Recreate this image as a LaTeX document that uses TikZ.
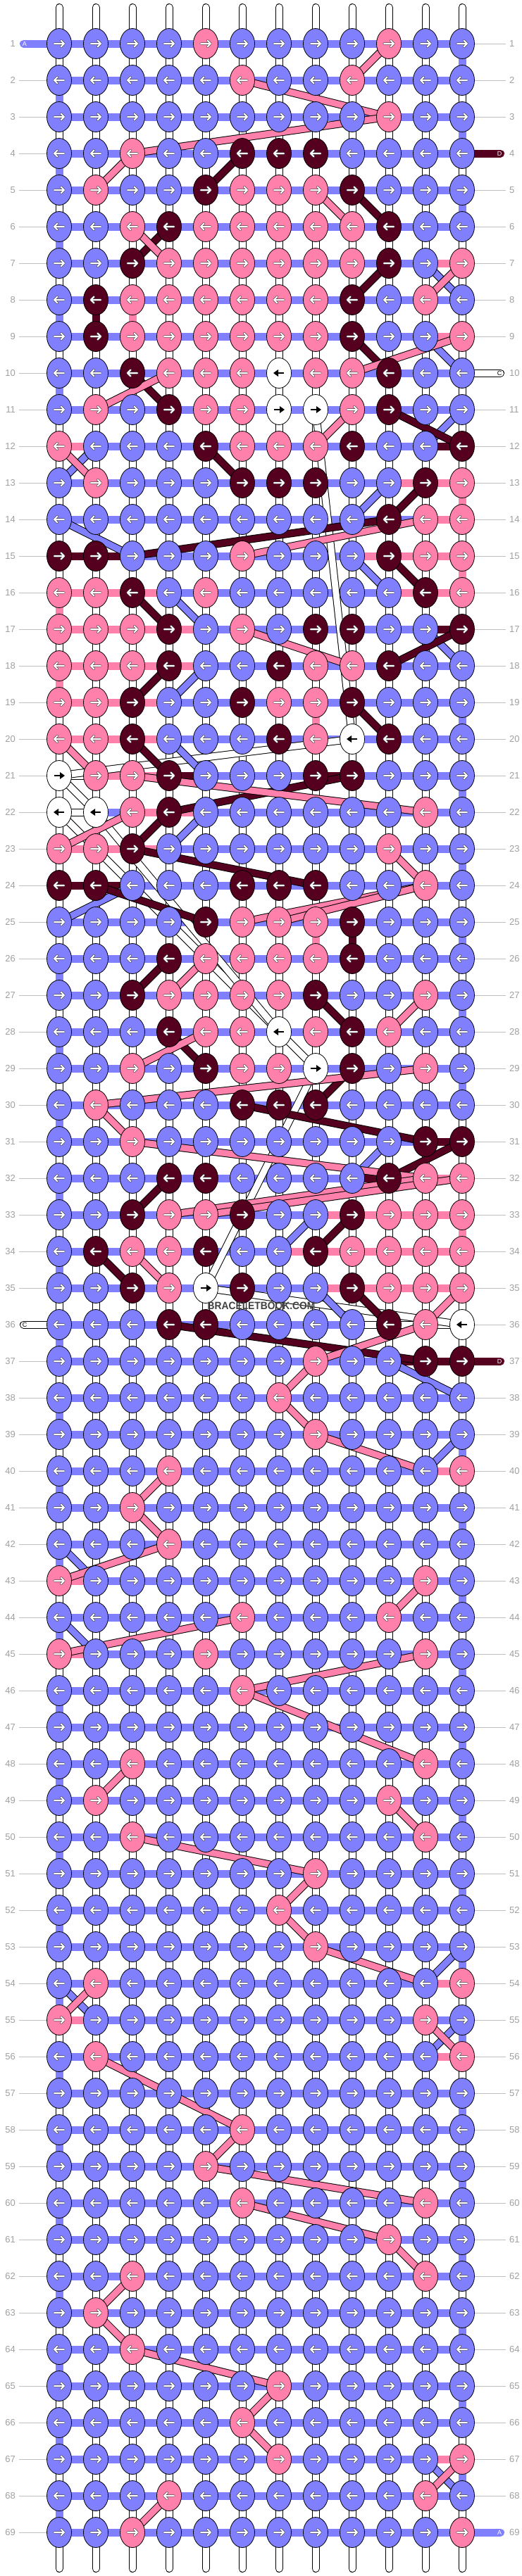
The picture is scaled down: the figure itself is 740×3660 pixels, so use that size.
\documentclass[tikz,border=0pt]{standalone}
\usepackage{fontspec}
\setmainfont{Liberation Sans}
\usetikzlibrary{shapes.geometric}
\definecolor{cB}{HTML}{8080FF}
\definecolor{cP}{HTML}{FF80AA}
\definecolor{cD}{HTML}{55001F}
\definecolor{cW}{HTML}{FFFFFF}
\definecolor{labgray}{HTML}{A0A0A0}
\definecolor{linegray}{HTML}{C0C0C0}
\definecolor{wmark}{HTML}{404040}
\tikzset{
  knot/.style={ellipse, draw=black, line width=0.8pt, minimum width=35pt, minimum height=43pt, inner sep=0pt},
  band/.style={draw=black, line width=1pt, double=#1, double distance=9pt},
  bar/.style={draw=#1, line width=11pt},
  lab/.style={text=labgray, inner sep=0pt, font=\fontsize{13}{13}\selectfont},
  labline/.style={draw=linegray, line width=1pt},
  stublab/.style={inner sep=0pt, font=\fontsize{9}{9}\selectfont}
}
\begin{document}
\begin{tikzpicture}[x=1pt,y=-1pt]
\useasboundingbox (0,0) rectangle (740,3660);
\fill[white] (0,0) rectangle (740,3660);
% grid coordinates
\foreach \r in {1,...,69}{
  \foreach \c in {1,...,12}{
    \coordinate (p-\r-\c) at ({84+52*(\c-1)},{62+52*(\r-1)});
  }
}
% vertical white strings
\foreach \c in {1,...,12}{
  \coordinate (top-\c) at ({84+52*(\c-1)},10.5);
  \coordinate (bot-\c) at ({84+52*(\c-1)},3649.5);
  \draw[band=white, line cap=round] (top-\c) -- (bot-\c);
}
% edge wraps
\foreach \r [evaluate=\r as \s using int(\r+1)] in {1,3,5,19,21,23,25,27,29,39,41,43,45,47,49,51,53,55,57,59,61,63,65,67}
  \draw[bar=cB] (p-\r-12) -- (p-\s-12);
\foreach \r [evaluate=\r as \s using int(\r+1)] in {2,4,6,8,10,26,28,30,32,34,36,38,40,42,44,46,48,50,52,54,56,58,60,62,64,66,68}
  \draw[bar=cB] (p-\r-1) -- (p-\s-1);
\foreach \a/\b in {16-1/17-1,18-1/19-1,13-12/14-12,15-12/16-12,33-12/34-12,8-3/9-3,19-8/20-8,25-8/26-8}
  \draw[bar=cP] (p-\a) -- (p-\b);
\foreach \a/\b in {8-2/9-2,25-9/26-9}
  \draw[bar=cD] (p-\a) -- (p-\b);
% horizontal bars
\foreach \r in {1,...,69}
  \draw[bar=cB] (p-\r-1) -- (p-\r-12);
\foreach \r/\k in {7/11,9/11,12/1,13/10,13/11,14/11,15/9,15/10,15/11,16/1,16/2,16/3,16/10,16/11,17/1,17/2,17/3,17/4,18/1,18/2,18/3,18/4,19/1,19/2,19/3,20/1,20/2,20/3,21/2,21/3,22/3,22/4,23/1,23/2,23/3,32/11,33/8,33/9,33/10,33/11,34/7,34/8,34/9,34/10,34/11,35/8,35/9,35/10,35/11,40/11,43/1,45/1,54/11,55/1,56/11,67/11}{
  \pgfmathtruncatemacro\kk{\k+1}
  \draw[bar=cP] (p-\r-\k) -- (p-\r-\kk);
}
\foreach \r/\k in {12/11,15/1,15/2,17/11,21/4,21/8,24/1,24/2,31/11,32/9,37/10,37/11}{
  \pgfmathtruncatemacro\kk{\k+1}
  \draw[bar=cD] (p-\r-\k) -- (p-\r-\kk);
}
\foreach \r/\k in {21/1,22/1,36/9,36/10,36/11}{
  \pgfmathtruncatemacro\kk{\k+1}
  \draw[bar=white] (p-\r-\k) -- (p-\r-\kk);
  \draw[band=white] (p-\r-\k) -- (p-\r-\kk);
}
% white diagonal strings
\foreach \a/\b in {11-8/20-9,20-9/21-1,21-1/22-2,22-1/28-7,22-2/28-7,28-7/29-8,29-8/35-5,35-5/36-12}
  \draw[band=white] (p-\a) -- (p-\b);
% blue diagonals
\foreach \a/\b in {7-11/8-12,9-11/10-12,11-12/12-11,12-2/13-1,13-10/14-9,14-1/15-3,15-9/16-10,16-4/17-5,17-11/18-12,18-5/19-4,20-4/21-5,22-5/23-4,24-3/25-1,31-10/32-9,33-8/34-7,35-8/36-9,37-10/38-12,39-12/40-11,42-1/43-2,44-1/45-2,53-12/54-11,54-1/55-2,55-12/56-11,67-11/68-12}
  \draw[band=cB] (p-\a) -- (p-\b);
% dark diagonals
\foreach \a/\b in {4-6/5-5,5-9/6-10,6-4/7-3,7-10/8-9,9-9/10-10,10-3/11-4,11-10/12-12,12-5/13-6,13-11/14-10,14-10/15-3,15-10/16-11,16-3/17-4,17-12/18-10,18-4/19-3,19-9/20-10,20-3/21-4,21-9/22-4,22-4/23-3,23-3/24-8,24-2/25-5,26-4/27-3,27-8/28-9,28-4/29-5,29-9/30-8,30-6/31-11,31-12/32-10,32-4/33-3,33-9/34-8,34-2/35-3,35-9/36-10,36-4/37-11}
  \draw[band=cD] (p-\a) -- (p-\b);
% pink diagonals
\foreach \a/\b in {1-10/2-9,2-6/3-10,3-10/4-3,4-3/5-2,5-8/6-9,6-3/7-4,7-12/8-11,9-12/10-9,10-4/11-2,11-9/12-8,12-1/13-2,14-11/15-6,17-6/18-9,20-1/21-2,21-3/22-11,22-3/23-1,23-10/24-11,24-11/25-6,24-11/25-7,26-5/27-4,27-11/28-10,28-5/29-3,29-11/30-2,30-2/31-3,31-3/32-11,32-11/33-4,32-12/33-5,34-3/35-4,35-12/36-11,36-11/37-8,37-8/38-7,38-7/39-8,39-8/40-11,40-4/41-3,41-3/42-4,42-4/43-1,43-11/44-10,44-6/45-1,45-11/46-6,46-6/48-11,48-3/49-2,49-10/50-11,50-3/51-8,51-8/52-7,52-7/53-8,53-8/54-11,54-2/55-1,55-11/56-12,56-2/58-6,58-6/59-5,59-5/60-11,60-6/61-10,61-10/62-11,62-3/63-2,63-2/64-3,64-3/65-7,65-7/66-6,66-6/67-7,67-12/68-11,68-4/69-3}
  \draw[band=cP] (p-\a) -- (p-\b);
% stubs
\coordinate (sA1) at (33.5,62);
\draw[bar=cB, line cap=round] (sA1) -- (p-1-1);
\node[stublab, text=white] (tA1) at (35,62) {A};
\coordinate (sD4) at (710.5,218);
\draw[bar=cD, line cap=round] (p-4-12) -- (sD4);
\node[stublab, text=white] (tD4) at (709,218) {D};
\coordinate (sC10) at (710.5,530);
\draw[band=white, line cap=round] (p-10-12) -- (sC10);
\node[stublab, text=black] (tC10) at (709,530) {C};
\coordinate (sC36) at (33.5,1882);
\draw[band=white, line cap=round] (sC36) -- (p-36-1);
\node[stublab, text=black] (tC36) at (35,1882) {C};
\coordinate (sD37) at (710.5,1934);
\draw[bar=cD, line cap=round] (p-37-12) -- (sD37);
\node[stublab, text=white] (tD37) at (709,1934) {D};
\coordinate (sA69) at (710.5,3598);
\draw[bar=cB, line cap=round] (p-69-12) -- (sA69);
\node[stublab, text=white] (tA69) at (709,3598) {A};
% knots
\foreach \r/\row in {
1/{B,B,B,B,P,B,B,B,B,P,B,B},
2/{B,B,B,B,B,P,B,B,P,B,B,B},
3/{B,B,B,B,B,B,B,B,B,P,B,B},
4/{B,B,P,B,B,D,D,D,B,B,B,B},
5/{B,P,B,B,D,P,P,P,D,B,B,B},
6/{B,B,P,D,P,P,P,P,P,D,B,B},
7/{B,B,D,P,P,P,P,P,P,D,B,P},
8/{B,D,P,P,P,P,P,P,D,B,P,B},
9/{B,D,P,P,P,P,P,P,D,B,B,P},
10/{B,B,D,P,P,P,W,P,P,D,B,B},
11/{B,P,B,D,P,P,W,W,P,D,B,B},
12/{P,B,B,B,D,P,P,P,D,B,B,D},
13/{B,P,B,B,B,D,D,D,B,B,D,P},
14/{B,B,B,B,B,B,B,B,B,D,P,P},
15/{D,D,B,B,B,P,B,B,B,D,P,P},
16/{P,P,D,B,P,B,B,B,B,B,D,P},
17/{P,P,P,D,B,P,B,D,D,B,B,D},
18/{P,P,P,D,B,B,D,P,P,D,B,B},
19/{P,P,D,B,B,D,P,P,D,B,B,B},
20/{P,P,D,B,B,B,D,P,W,D,B,B},
21/{W,P,P,D,B,B,B,D,D,B,B,B},
22/{W,W,P,D,B,B,B,B,B,B,P,B},
23/{P,P,D,B,B,B,B,B,B,P,B,B},
24/{D,D,B,B,B,D,D,D,B,B,P,B},
25/{B,B,B,B,D,P,P,P,D,B,B,B},
26/{B,B,B,D,P,P,P,P,D,B,B,B},
27/{B,B,D,P,P,P,P,D,B,B,P,B},
28/{B,B,B,D,P,P,W,P,D,P,B,B},
29/{B,B,P,B,D,P,P,W,D,B,P,B},
30/{B,P,B,B,B,D,D,D,B,B,B,B},
31/{B,B,P,B,B,B,B,B,B,B,D,D},
32/{B,B,B,D,D,B,B,B,B,D,P,P},
33/{B,B,D,P,P,D,B,B,D,P,P,P},
34/{B,D,P,P,D,B,B,D,P,P,P,P},
35/{B,B,D,P,W,D,B,B,D,P,P,P},
36/{B,B,B,D,D,B,B,B,B,D,P,W},
37/{B,B,B,B,B,B,B,P,B,B,D,D},
38/{B,B,B,B,B,B,P,B,B,B,B,B},
39/{B,B,B,B,B,B,B,P,B,B,B,B},
40/{B,B,B,P,B,B,B,B,B,B,B,P},
41/{B,B,P,B,B,B,B,B,B,B,B,B},
42/{B,B,B,P,B,B,B,B,B,B,B,B},
43/{P,B,B,B,B,B,B,B,B,B,P,B},
44/{B,B,B,B,B,P,B,B,B,P,B,B},
45/{P,B,B,B,P,B,B,B,B,B,P,B},
46/{B,B,B,B,B,P,B,B,B,B,B,B},
47/{B,B,B,B,B,B,B,B,B,B,B,B},
48/{B,B,P,B,B,B,B,B,B,B,P,B},
49/{B,P,B,B,B,B,B,B,B,P,B,B},
50/{B,B,P,B,B,B,B,B,B,B,P,B},
51/{B,B,B,B,B,B,B,P,B,B,B,B},
52/{B,B,B,B,B,B,P,B,B,B,B,B},
53/{B,B,B,B,B,B,B,P,B,B,B,B},
54/{B,P,B,B,B,B,B,B,B,B,B,P},
55/{P,B,B,B,B,B,B,B,B,B,P,B},
56/{B,P,B,B,B,B,B,B,B,B,B,P},
57/{B,B,B,B,B,B,B,B,B,B,B,B},
58/{B,B,B,B,B,P,B,B,B,B,B,B},
59/{B,B,B,B,P,B,B,B,B,B,B,B},
60/{B,B,B,B,B,P,B,B,B,B,P,B},
61/{B,B,B,B,B,B,B,B,B,P,B,B},
62/{B,B,P,B,B,B,B,B,B,B,P,B},
63/{B,P,B,B,B,B,B,B,B,B,B,B},
64/{B,B,P,B,B,B,B,B,B,B,B,B},
65/{B,B,B,B,B,B,P,B,B,B,B,B},
66/{B,B,B,B,B,P,B,B,B,B,B,B},
67/{B,B,B,B,B,B,P,B,B,B,B,P},
68/{B,B,B,P,B,B,B,B,B,B,P,B},
69/{B,B,P,B,B,B,B,B,B,B,B,P}}{
  \pgfmathsetmacro\dir{ifthenelse(mod(\r,2)==1,1,-1)}
  \foreach \k [count=\c] in \row {
    \node[knot, fill=c\k] (k-\r-\c) at (p-\r-\c) {};
    \begin{scope}[shift={(p-\r-\c)}, xscale=\dir]
      \if\k W
        \draw[black, line width=2.2pt] (-7,0) -- (3,0);
        \fill[black] (1,-5) -- (8,0) -- (1,5) -- cycle;
      \else
        \draw[black!70, line width=3.4pt, line cap=round, line join=round] (-7,0) -- (7,0) (2.5,-4.5) -- (7,0) -- (2.5,4.5);
        \draw[white, line width=2pt, line cap=round, line join=round] (-7,0) -- (7,0) (2.5,-4.5) -- (7,0) -- (2.5,4.5);
      \fi
    \end{scope}
  }
}
% row labels
\foreach \r in {1,...,69}{
  \node[lab, anchor=east] (ll-\r) at (22,{62+52*(\r-1)}) {\r};
  \node[lab, anchor=west] (rl-\r) at (723,{62+52*(\r-1)}) {\r};
}
\foreach \r in {2,...,35,37,38,...,69}
  \draw[labline] ([xshift=5pt]ll-\r.east) -- (k-\r-1.west);
\foreach \r in {1,2,3,5,6,7,8,9,11,12,...,36,38,39,...,68}
  \draw[labline] (k-\r-12.east) -- ([xshift=-5pt]rl-\r.west);
% watermark
\node[text=wmark, font=\fontsize{15}{15}\selectfont\bfseries, inner sep=0pt, xscale=0.92] (wm) at (371,1855) {BRACELETBOOK.COM};
\end{tikzpicture}
\end{document}
